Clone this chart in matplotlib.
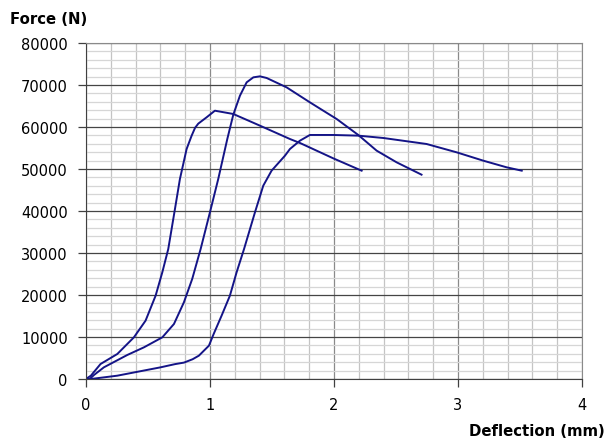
import numpy as np
from matplotlib import pyplot as plt

# deflection (mm) / force (N) for the three specimens
defl_a = [0, 0.04, 0.118, 0.253, 0.387, 0.481, 0.562, 0.616, 0.664, 0.718, 0.758, 0.812,
          0.852, 0.88, 0.906, 0.973, 1.04, 1.188, 1.403, 1.645, 1.726, 1.994, 2.223]
force_a = [0, 790, 3570, 5950, 9920, 13890, 19840, 25400, 30950, 40480, 47620, 54760,
           57900, 59800, 60800, 62300, 63880, 63100, 60320, 57140, 56190, 52540, 49600]

defl_b = [0, 0.03, 0.065, 0.145, 0.333, 0.468, 0.616, 0.71, 0.79, 0.857, 0.925, 1.0, 1.067,
          1.14, 1.188, 1.242, 1.296, 1.35, 1.403, 1.457, 1.618, 1.806, 1.914, 2.022, 2.196,
          2.344, 2.505, 2.706]
force_b = [0, 0, 950, 2780, 5710, 7540, 9920, 13100, 18250, 23810, 30950, 39680, 47620,
           57140, 62900, 67460, 70630, 71820, 72060, 71670, 69440, 65870, 63880, 61900, 58100,
           54370, 51590, 48650]

defl_c = [0, 0.04, 0.253, 0.602, 0.72, 0.79, 0.86, 0.911, 0.992, 1.03, 1.094, 1.161, 1.215,
          1.275, 1.363, 1.43, 1.497, 1.605, 1.645, 1.726, 1.806, 1.994, 2.196, 2.398, 2.747,
          2.989, 3.204, 3.392, 3.514]
force_c = [0, 0, 790, 2780, 3550, 3900, 4700, 5560, 7940, 10710, 15080, 19840, 25400,
           30950, 39680, 46030, 49600, 53170, 54760, 56750, 58100, 58100, 57940, 57380, 55950,
           53970, 51980, 50400, 49600]

x_ticks = [0, 1, 2, 3, 4]
y_ticks = list(range(0, 80001, 10000))

line_color = '#141487'

fig = plt.figure(figsize=(6.05, 4.39), dpi=100)
ax = fig.add_axes([0.142, 0.1344, 0.820, 0.7654])

# grid like the spreadsheet original
ax.set_xticks(np.arange(0, 4.001, 0.2), minor=True)
ax.set_yticks(np.arange(0, 80001, 2000), minor=True)
ax.xaxis.grid(True, which='minor', color='#c4c4c4', linewidth=0.9)
ax.yaxis.grid(True, which='minor', color='#d6d6d6', linewidth=0.9)
ax.xaxis.grid(True, which='major', color='#8a8a8a', linewidth=0.9)
ax.yaxis.grid(True, which='major', color='#454545', linewidth=0.9)
ax.set_axisbelow(True)

for x, y in [(defl_a, force_a), (defl_b, force_b), (defl_c, force_c)]:
    ax.plot(x, y, color=line_color, linewidth=1.4, solid_joinstyle='round')

ax.set_xlim(0, 4)
ax.set_ylim(0, 80000)
ax.set_xticks(x_ticks)
ax.set_yticks(y_ticks)
ax.set_xticklabels([str(t) for t in x_ticks])
ax.set_yticklabels([str(t) for t in y_ticks])
ax.tick_params(which='major', length=6, width=0.9, color='#404040', labelsize=10.5, pad=7)
ax.tick_params(which='minor', length=0)

for side in ['top', 'right']:
    ax.spines[side].set_color('#8a8a8a')
for side in ['left', 'bottom']:
    ax.spines[side].set_color('#404040')

fig.text(0.017, 0.955, 'Force (N)', fontsize=10.7, fontweight='bold', va='center', ha='left')
fig.text(0.999, 0.017, 'Deflection (mm)', fontsize=10.7, fontweight='bold', va='center', ha='right')

plt.savefig('out.png', dpi=100)
